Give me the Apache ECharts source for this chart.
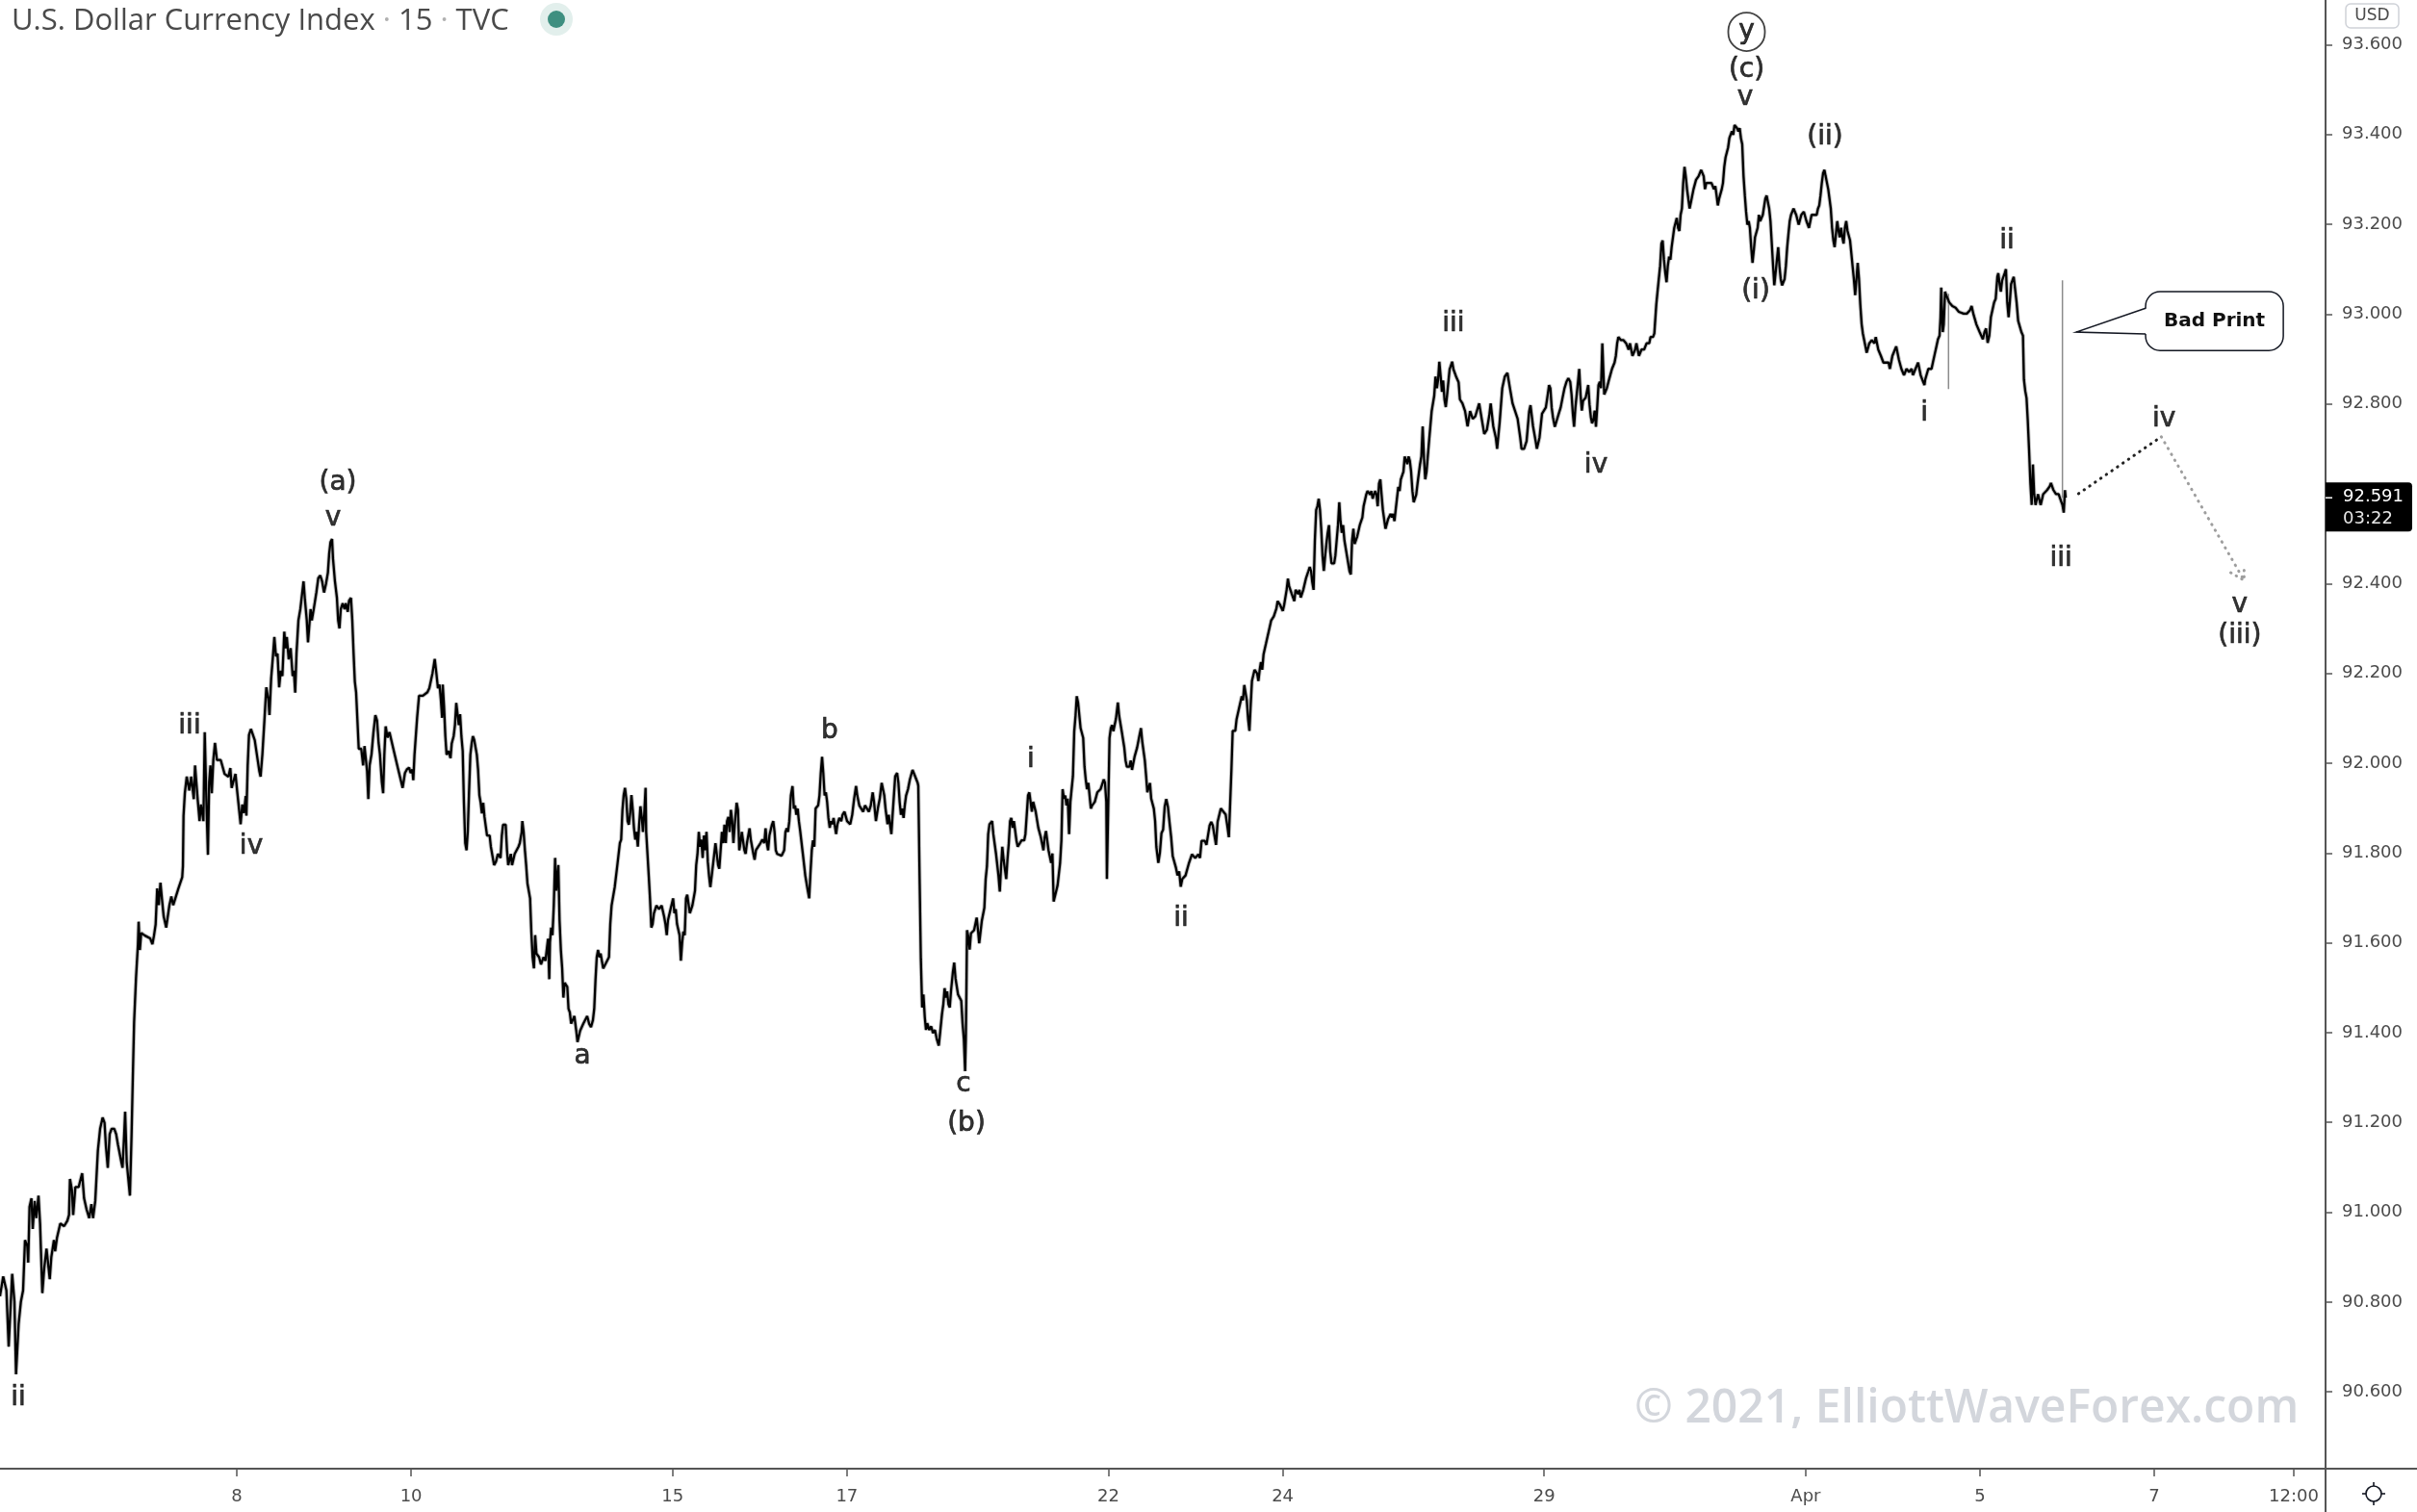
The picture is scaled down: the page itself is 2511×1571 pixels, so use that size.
<!DOCTYPE html>
<html><head><meta charset="utf-8">
<script src="https://cdn.jsdelivr.net/npm/echarts@6/dist/echarts.min.js"></script>
<style>html,body{margin:0;padding:0;background:#fff;overflow:hidden}#c{width:2511px;height:1571px}</style>
</head><body><div id="c"></div>
<script>
// ---- DATA (time in trading-day units: 0 = Mar 8 session, price in index points) ----
const pricePath = [
[-2.717,90.813],[-2.680,90.857],[-2.643,90.826],[-2.617,90.701],[-2.577,90.863],[-2.551,90.801],[-2.533,90.639],[-2.503,90.751],[-2.477,90.801],[-2.452,90.826],[-2.430,90.938],[-2.404,90.925],[-2.393,90.888],[-2.378,91.012],[-2.356,91.031],[-2.341,90.963],[-2.319,91.025],[-2.301,90.987],[-2.275,91.037],[-2.257,90.975],[-2.231,90.820],[-2.209,90.876],[-2.183,90.919],[-2.146,90.851],[-2.128,90.900],[-2.098,90.938],[-2.084,90.913],[-2.062,90.944],[-2.025,90.975],[-1.981,90.969],[-1.944,90.981],[-1.925,90.994],[-1.914,91.074],[-1.892,91.050],[-1.877,90.994],[-1.852,91.056],[-1.815,91.056],[-1.774,91.087],[-1.752,91.031],[-1.723,91.006],[-1.693,90.987],[-1.668,91.018],[-1.649,90.987],[-1.624,91.025],[-1.594,91.137],[-1.568,91.186],[-1.539,91.211],[-1.517,91.199],[-1.502,91.149],[-1.480,91.099],[-1.458,91.174],[-1.436,91.186],[-1.406,91.186],[-1.384,91.174],[-1.362,91.149],[-1.325,91.112],[-1.311,91.099],[-1.292,91.174],[-1.281,91.224],[-1.263,91.112],[-1.226,91.037],[-1.207,91.174],[-1.193,91.298],[-1.178,91.423],[-1.156,91.522],[-1.134,91.597],[-1.126,91.647],[-1.112,91.584],[-1.097,91.622],[-1.053,91.616],[-0.994,91.610],[-0.968,91.597],[-0.950,91.616],[-0.931,91.641],[-0.913,91.721],[-0.895,91.684],[-0.876,91.734],[-0.858,91.697],[-0.839,91.659],[-0.810,91.634],[-0.773,91.684],[-0.751,91.703],[-0.729,91.684],[-0.670,91.721],[-0.626,91.746],[-0.618,91.771],[-0.611,91.883],[-0.596,91.933],[-0.574,91.970],[-0.545,91.939],[-0.523,91.970],[-0.493,91.920],[-0.479,91.995],[-0.449,91.920],[-0.427,91.871],[-0.412,91.908],[-0.383,91.871],[-0.368,92.069],[-0.346,91.896],[-0.331,91.796],[-0.317,91.958],[-0.302,91.995],[-0.287,91.933],[-0.269,92.007],[-0.250,92.045],[-0.228,92.007],[-0.184,92.007],[-0.140,91.976],[-0.096,91.970],[-0.074,91.989],[-0.059,91.945],[-0.015,91.976],[0.007,91.933],[0.044,91.864],[0.063,91.908],[0.081,91.889],[0.103,91.927],[0.110,91.883],[0.125,91.995],[0.140,92.063],[0.162,92.076],[0.206,92.051],[0.258,91.983],[0.273,91.970],[0.294,92.020],[0.317,92.095],[0.339,92.169],[0.361,92.144],[0.375,92.107],[0.394,92.188],[0.412,92.231],[0.431,92.281],[0.449,92.238],[0.467,92.244],[0.486,92.169],[0.504,92.206],[0.523,92.194],[0.545,92.293],[0.560,92.256],[0.574,92.281],[0.596,92.231],[0.618,92.256],[0.641,92.194],[0.655,92.206],[0.670,92.157],[0.685,92.244],[0.707,92.318],[0.729,92.343],[0.766,92.405],[0.780,92.368],[0.803,92.318],[0.817,92.269],[0.847,92.343],[0.861,92.318],[0.883,92.343],[0.913,92.380],[0.935,92.412],[0.957,92.418],[0.979,92.405],[1.001,92.380],[1.023,92.399],[1.045,92.424],[1.060,92.467],[1.075,92.492],[1.093,92.499],[1.104,92.455],[1.126,92.405],[1.149,92.368],[1.163,92.318],[1.178,92.300],[1.193,92.343],[1.215,92.356],[1.237,92.343],[1.251,92.356],[1.274,92.337],[1.288,92.362],[1.310,92.368],[1.325,92.318],[1.340,92.244],[1.354,92.182],[1.369,92.157],[1.384,92.095],[1.399,92.032],[1.428,92.032],[1.450,91.995],[1.465,92.038],[1.495,91.983],[1.509,91.920],[1.524,91.995],[1.546,92.020],[1.568,92.069],[1.590,92.107],[1.609,92.095],[1.627,92.045],[1.642,92.020],[1.664,91.958],[1.679,91.933],[1.693,92.020],[1.708,92.082],[1.730,92.057],[1.752,92.069],[1.796,92.032],[1.848,91.989],[1.903,91.945],
[1.929,91.978],[1.951,91.986],[1.977,91.990],[1.995,91.978],[2.014,91.986],[2.025,91.962],[2.039,92.019],[2.069,92.101],[2.091,92.150],[2.135,92.150],[2.187,92.158],[2.209,92.167],[2.245,92.200],[2.271,92.232],[2.290,92.200],[2.308,92.167],[2.326,92.175],[2.341,92.142],[2.356,92.101],[2.363,92.175],[2.378,92.126],[2.393,92.060],[2.407,92.019],[2.430,92.027],[2.452,92.011],[2.466,92.044],[2.488,92.060],[2.503,92.085],[2.518,92.134],[2.533,92.109],[2.547,92.085],[2.562,92.109],[2.577,92.060],[2.592,92.027],[2.606,91.912],[2.621,91.822],[2.636,91.806],[2.650,91.847],[2.665,91.937],[2.680,92.019],[2.695,92.044],[2.709,92.060],[2.724,92.052],[2.754,92.019],[2.768,91.986],[2.783,91.929],[2.798,91.912],[2.812,91.888],[2.827,91.912],[2.842,91.880],[2.871,91.839],[2.901,91.839],[2.915,91.814],[2.952,91.773],[2.974,91.781],[2.996,91.798],[3.026,91.789],[3.041,91.839],[3.055,91.863],[3.085,91.863],[3.100,91.806],[3.114,91.773],[3.144,91.798],[3.158,91.773],[3.188,91.798],[3.232,91.814],[3.247,91.822],[3.269,91.847],[3.276,91.871],[3.291,91.847],[3.306,91.806],[3.320,91.773],[3.335,91.732],[3.365,91.699],[3.379,91.625],[3.394,91.568],[3.409,91.543],[3.423,91.617],[3.438,91.576],[3.468,91.568],[3.490,91.552],[3.519,91.568],[3.541,91.560],[3.571,91.609],[3.585,91.519],[3.593,91.601],[3.607,91.634],[3.622,91.617],[3.637,91.683],[3.652,91.789],[3.666,91.716],[3.681,91.716],[3.689,91.773],[3.703,91.650],[3.718,91.584],[3.733,91.543],[3.747,91.478],[3.762,91.511],[3.792,91.502],[3.806,91.453],[3.821,91.445],[3.836,91.420],[3.854,91.428],[3.873,91.437],[3.895,91.404],[3.909,91.379],[3.924,91.383],[3.939,91.404],[3.976,91.420],[4.020,91.437],[4.042,91.420],[4.064,91.412],[4.086,91.428],[4.101,91.453],[4.116,91.519],[4.130,91.568],[4.145,91.584],[4.160,91.568],[4.174,91.576],[4.204,91.543],[4.226,91.547],[4.270,91.568],[4.285,91.642],[4.300,91.683],[4.336,91.724],[4.366,91.773],[4.381,91.777],[4.395,91.822],[4.410,91.830],[4.425,91.896],[4.439,91.929],[4.454,91.945],[4.469,91.921],[4.484,91.871],[4.498,91.863],[4.513,91.888],[4.528,91.929],[4.543,91.896],[4.557,91.855],[4.572,91.830],[4.587,91.847],[4.601,91.814],[4.616,91.863],[4.631,91.904],[4.646,91.880],[4.660,91.847],[4.675,91.888],[4.690,91.945],[4.697,91.847],[4.712,91.798],[4.727,91.748],[4.741,91.699],[4.756,91.634],[4.771,91.642],[4.786,91.666],[4.815,91.683],[4.844,91.675],[4.874,91.683],[4.903,91.658],[4.918,91.642],[4.933,91.617],[4.947,91.650],[4.977,91.675],[5.006,91.699],[5.021,91.666],[5.036,91.675],[5.051,91.642],[5.080,91.617],[5.095,91.560],[5.110,91.601],[5.124,91.625],[5.139,91.617],[5.154,91.699],[5.168,91.707],[5.198,91.666],[5.227,91.683],[5.257,91.716],[5.271,91.773],[5.286,91.798],[5.301,91.847],[5.316,91.814],[5.330,91.830],[5.345,91.789],[5.360,91.839],[5.375,91.806],[5.389,91.847],[5.404,91.781],[5.419,91.748],[5.433,91.724],[5.448,91.748],[5.478,91.798],[5.492,91.822],[5.522,91.773],[5.536,91.765],[5.566,91.847],[5.581,91.822],[5.595,91.863],[5.610,91.822],[5.625,91.871],[5.640,91.880],[5.654,91.847],[5.669,91.896],[5.684,91.871],[5.698,91.822],[5.713,91.863],[5.735,91.912],[5.750,91.896],[5.765,91.806],[5.779,91.822],[5.794,91.847],[5.824,91.806],[5.838,91.798],[5.853,91.822],[5.883,91.855],[5.897,91.830],[5.927,91.798],[5.941,91.785],[5.956,91.806],[6.008,91.822],[6.030,91.830],[6.052,91.822],[6.067,91.855],[6.081,91.822],[6.096,91.806],[6.111,91.839],[6.140,91.863],[6.155,91.871],[6.170,91.847],[6.184,91.806],[6.199,91.798],[6.251,91.794],[6.265,91.798],[6.280,91.806],[6.295,91.847],[6.310,91.855],[6.324,91.847],
[6.339,91.871],[6.357,91.928],[6.376,91.949],[6.391,91.899],[6.405,91.906],[6.420,91.885],[6.435,91.899],[6.449,91.871],[6.464,91.849],[6.494,91.799],[6.523,91.749],[6.553,91.714],[6.567,91.699],[6.582,91.756],[6.597,91.806],[6.611,91.828],[6.626,91.814],[6.641,91.899],[6.670,91.906],[6.685,91.928],[6.700,91.978],[6.715,92.014],[6.729,91.978],[6.744,91.928],[6.759,91.935],[6.773,91.914],[6.788,91.878],[6.803,91.856],[6.818,91.871],[6.832,91.864],[6.847,91.878],[6.876,91.842],[6.891,91.864],[6.913,91.878],[6.935,91.871],[6.950,91.885],[6.972,91.892],[7.002,91.871],[7.038,91.864],[7.061,91.885],[7.083,91.921],[7.105,91.949],[7.119,91.928],[7.142,91.906],[7.186,91.892],[7.208,91.906],[7.252,91.892],[7.274,91.906],[7.296,91.935],[7.311,91.914],[7.333,91.871],[7.355,91.899],[7.377,91.921],[7.399,91.956],[7.429,91.928],[7.443,91.899],[7.466,91.864],[7.480,91.885],[7.510,91.842],[7.524,91.885],[7.539,91.928],[7.554,91.971],[7.576,91.978],[7.591,91.956],[7.605,91.914],[7.620,91.885],[7.635,91.899],[7.650,91.878],[7.664,91.906],[7.679,91.928],[7.701,91.942],[7.723,91.964],[7.753,91.985],[7.782,91.971],[7.812,91.956],[7.819,91.949],[7.834,91.742],[7.848,91.564],[7.863,91.456],[7.878,91.485],[7.893,91.435],[7.907,91.406],[7.922,91.421],[7.944,91.406],[7.966,91.414],[7.988,91.399],[8.010,91.406],[8.032,91.385],[8.054,91.371],[8.069,91.399],[8.091,91.442],[8.106,91.463],[8.121,91.499],[8.135,91.478],[8.150,91.492],[8.165,91.463],[8.180,91.456],[8.194,91.492],[8.216,91.535],[8.231,91.556],[8.246,91.521],[8.275,91.485],[8.312,91.471],[8.327,91.421],[8.342,91.385],[8.356,91.314],[8.364,91.385],[8.371,91.492],[8.378,91.628],[8.393,91.614],[8.408,91.585],[8.423,91.621],[8.459,91.628],[8.489,91.656],[8.504,91.628],[8.518,91.599],[8.548,91.649],[8.577,91.678],[8.592,91.742],[8.607,91.771],[8.621,91.842],[8.636,91.864],[8.666,91.871],[8.680,91.842],[8.710,91.799],[8.739,91.749],[8.754,91.714],[8.769,91.771],[8.783,91.814],[8.798,91.785],[8.828,91.742],[8.842,91.785],[8.857,91.821],[8.872,91.871],[8.886,91.878],[8.901,91.856],[8.916,91.871],[8.945,91.828],[8.960,91.814],[9.004,91.828],[9.034,91.828],[9.048,91.842],[9.063,91.885],[9.078,91.928],[9.093,91.935],[9.122,91.892],[9.137,91.914],[9.166,91.892],[9.196,91.856],[9.225,91.835],[9.255,91.806],[9.269,91.835],[9.284,91.849],[9.313,91.806],[9.343,91.778],[9.358,91.799],[9.372,91.692],[9.387,91.692],[9.417,91.728],[9.446,91.778],[9.461,91.828],[9.475,91.942],[9.490,91.921],[9.505,91.928],[9.519,91.906],[9.534,91.921],[9.549,91.842],[9.564,91.914],[9.578,91.942],[9.593,91.971],[9.608,92.071],[9.623,92.106],[9.637,92.149],[9.652,92.135],[9.681,92.078],[9.711,92.056],[9.726,91.992],[9.740,91.964],[9.755,91.942],[9.770,91.956],[9.799,91.899],[9.814,91.906],[9.844,91.914],[9.873,91.935],[9.910,91.942],[9.947,91.964],[9.961,91.956],[9.976,91.914],[9.983,91.742],[10.013,92.056],[10.028,92.078],[10.042,92.085],[10.057,92.071],[10.087,92.099],[10.109,92.135],[10.123,92.106],[10.153,92.071],[10.182,92.035],[10.197,92.006],[10.212,91.992],[10.241,91.992],[10.256,92.006],[10.271,91.985],[10.300,92.014],[10.330,92.035],[10.359,92.064],[10.374,92.078],[10.388,92.049],[10.418,92.006],[10.433,91.971],[10.447,91.935],[10.477,91.956],[10.491,91.921],[10.521,91.899],[10.536,91.871],[10.550,91.814],[10.573,91.778],
[10.591,91.801],[10.609,91.844],[10.628,91.852],[10.646,91.903],[10.664,91.920],[10.683,91.903],[10.701,91.869],[10.720,91.835],[10.738,91.793],[10.756,91.793],[10.775,91.767],[10.793,91.750],[10.812,91.759],[10.830,91.725],[10.848,91.742],[10.885,91.750],[10.922,91.776],[10.959,91.797],[10.996,91.789],[11.032,91.797],[11.051,91.789],[11.069,91.827],[11.106,91.827],[11.125,91.818],[11.161,91.861],[11.180,91.869],[11.198,91.861],[11.235,91.818],[11.253,91.869],[11.290,91.899],[11.309,91.903],[11.345,91.886],[11.364,91.861],[11.382,91.835],[11.397,91.911],[11.412,91.988],[11.426,92.072],[11.456,92.072],[11.471,92.098],[11.500,92.123],[11.530,92.149],[11.544,92.140],[11.559,92.174],[11.588,92.140],[11.603,92.098],[11.618,92.072],[11.633,92.132],[11.647,92.183],[11.677,92.208],[11.706,92.200],[11.721,92.183],[11.736,92.208],[11.750,92.225],[11.765,92.208],[11.780,92.242],[11.809,92.267],[11.839,92.293],[11.868,92.318],[11.898,92.327],[11.927,92.344],[11.942,92.361],[11.971,92.352],[12.001,92.339],[12.016,92.352],[12.030,92.348],[12.045,92.386],[12.060,92.411],[12.074,92.394],[12.104,92.377],[12.133,92.361],[12.148,92.386],[12.177,92.377],[12.192,92.386],[12.207,92.369],[12.236,92.386],[12.266,92.411],[12.295,92.428],[12.310,92.437],[12.325,92.428],[12.339,92.403],[12.354,92.386],[12.369,92.496],[12.384,92.564],[12.398,92.572],[12.413,92.589],[12.428,92.564],[12.442,92.522],[12.457,92.462],[12.472,92.428],[12.487,92.462],[12.501,92.488],[12.516,92.513],[12.531,92.530],[12.545,92.471],[12.560,92.445],[12.590,92.445],[12.604,92.462],[12.619,92.496],[12.634,92.530],[12.649,92.581],[12.663,92.539],[12.678,92.513],[12.693,92.530],[12.708,92.496],[12.737,92.462],[12.766,92.428],[12.781,92.420],[12.796,92.496],[12.811,92.522],[12.825,92.488],[12.855,92.505],[12.884,92.530],[12.914,92.547],[12.928,92.572],[12.958,92.598],[12.973,92.606],[13.002,92.598],[13.017,92.606],[13.032,92.589],[13.061,92.606],[13.076,92.598],[13.090,92.572],[13.105,92.623],[13.120,92.632],[13.134,92.598],[13.149,92.564],[13.179,92.522],[13.208,92.543],[13.238,92.555],[13.252,92.547],[13.267,92.555],[13.282,92.539],[13.296,92.564],[13.326,92.615],[13.341,92.606],[13.355,92.632],[13.385,92.649],[13.400,92.683],[13.429,92.666],[13.444,92.683],[13.458,92.674],[13.473,92.649],[13.488,92.606],[13.503,92.581],[13.532,92.598],[13.547,92.623],[13.576,92.666],[13.591,92.683],[13.606,92.750],[13.620,92.683],[13.635,92.632],[13.650,92.649],[13.679,92.717],[13.709,92.784],[13.738,92.818],[13.753,92.861],[13.768,92.835],[13.782,92.852],[13.797,92.894],[13.812,92.861],[13.827,92.827],[13.841,92.852],[13.856,92.810],[13.871,92.793],[13.885,92.818],[13.915,92.877],[13.944,92.894],[13.959,92.877],[13.989,92.861],[14.018,92.848],[14.033,92.810],[14.062,92.801],[14.092,92.784],[14.121,92.750],[14.150,92.784],[14.180,92.767],[14.209,92.772],[14.254,92.801],[14.283,92.767],[14.312,92.733],[14.342,92.742],[14.371,92.776],[14.386,92.801],[14.416,92.750],[14.445,92.725],[14.460,92.700],[14.489,92.759],[14.519,92.835],[14.548,92.861],[14.578,92.869],[14.607,92.835],[14.637,92.801],[14.666,92.784],[14.695,92.767],[14.725,92.725],[14.740,92.700],[14.769,92.700],[14.798,92.717],[14.828,92.784],[14.843,92.797],[14.872,92.750],[14.902,92.717],[14.916,92.700],[14.946,92.725],
[14.975,92.778],[14.997,92.785],[15.019,92.792],[15.041,92.821],[15.056,92.842],[15.071,92.835],[15.086,92.792],[15.100,92.771],[15.122,92.749],[15.145,92.764],[15.167,92.778],[15.189,92.792],[15.211,92.814],[15.233,92.835],[15.255,92.849],[15.277,92.857],[15.299,92.849],[15.314,92.821],[15.329,92.778],[15.343,92.749],[15.358,92.792],[15.388,92.849],[15.402,92.878],[15.417,92.821],[15.432,92.785],[15.446,92.807],[15.476,92.814],[15.505,92.842],[15.520,92.799],[15.535,92.771],[15.549,92.757],[15.564,92.764],[15.579,92.785],[15.594,92.749],[15.608,92.792],[15.623,92.842],[15.638,92.849],[15.652,92.835],[15.667,92.935],[15.689,92.821],[15.719,92.835],[15.748,92.857],[15.778,92.878],[15.807,92.892],[15.822,92.907],[15.837,92.935],[15.851,92.949],[15.881,92.942],[15.910,92.942],[15.940,92.935],[15.969,92.921],[15.984,92.935],[16.013,92.907],[16.043,92.921],[16.058,92.935],[16.087,92.907],[16.116,92.921],[16.146,92.921],[16.175,92.935],[16.205,92.935],[16.220,92.949],[16.249,92.949],[16.264,92.957],[16.271,92.978],[16.286,93.021],[16.300,93.049],[16.315,93.078],[16.330,93.107],[16.345,93.157],[16.359,93.164],[16.374,93.121],[16.389,93.092],[16.404,93.071],[16.418,93.107],[16.433,93.128],[16.448,93.121],[16.462,93.149],[16.492,93.192],[16.521,93.214],[16.536,93.192],[16.551,93.185],[16.565,93.221],[16.580,93.235],[16.595,93.292],[16.610,93.328],[16.624,93.307],[16.639,93.278],[16.668,93.235],[16.683,93.249],[16.713,93.278],[16.742,93.299],[16.771,93.307],[16.801,93.321],[16.830,93.307],[16.845,93.278],[16.860,93.292],[16.889,93.292],[16.919,93.292],[16.948,93.278],[16.963,93.285],[16.978,93.264],[16.992,93.242],[17.007,93.257],[17.037,93.278],[17.051,93.292],[17.066,93.328],[17.081,93.349],[17.110,93.371],[17.125,93.392],[17.154,93.407],[17.169,93.399],[17.184,93.421],[17.199,93.424],[17.213,93.414],[17.228,93.407],[17.243,93.414],[17.257,93.392],[17.272,93.378],[17.287,93.307],[17.302,93.264],[17.316,93.228],[17.331,93.199],[17.346,93.207],[17.360,93.192],[17.375,93.149],[17.390,93.114],[17.405,93.142],[17.419,93.171],[17.449,93.192],[17.464,93.221],[17.478,93.207],[17.508,93.221],[17.537,93.257],[17.552,93.264],[17.567,93.249],[17.581,93.235],[17.596,93.207],[17.611,93.157],[17.626,93.107],[17.640,93.064],[17.655,93.092],[17.670,93.121],[17.685,93.149],[17.699,93.107],[17.714,93.078],[17.729,93.064],[17.758,93.078],[17.773,93.107],[17.788,93.149],[17.802,93.178],[17.817,93.207],[17.832,93.221],[17.861,93.235],[17.891,93.221],[17.920,93.199],[17.950,93.221],[17.979,93.228],[18.009,93.207],[18.038,93.192],[18.068,93.221],[18.097,93.221],[18.126,93.221],[18.141,93.235],[18.156,93.242],[18.170,93.264],[18.185,93.292],[18.200,93.314],[18.215,93.321],[18.229,93.307],[18.259,93.278],[18.288,93.235],[18.303,93.192],[18.318,93.164],[18.332,93.149],[18.347,93.178],[18.362,93.207],[18.377,93.185],[18.391,93.171],[18.406,93.192],[18.421,93.171],[18.435,93.157],[18.450,93.192],[18.465,93.207],[18.480,93.185],[18.509,93.164],[18.524,93.135],[18.538,93.107],[18.553,93.078],[18.568,93.042],[18.583,93.078],[18.597,93.114],[18.612,93.078],[18.627,93.021],[18.642,92.978],[18.656,92.957],[18.686,92.928],[18.700,92.914],[18.730,92.935],[18.759,92.942],[18.789,92.935],[18.804,92.949],[18.833,92.921],[18.863,92.907],[18.892,92.892],[18.922,92.892],[18.951,92.892],[18.966,92.878],[18.995,92.907],[19.024,92.921],[19.039,92.928],[19.069,92.899],[19.098,92.878],[19.128,92.864],[19.157,92.878],[19.186,92.871],[19.216,92.878],[19.231,92.864],[19.260,92.878],[19.290,92.892],[19.319,92.864],[19.348,92.849],[19.363,92.842],
[19.371,92.854],[19.407,92.878],[19.444,92.878],[19.463,92.895],[19.481,92.911],[19.499,92.927],[19.518,92.944],[19.536,92.952],[19.547,92.993],[19.555,93.059],[19.573,92.960],[19.584,92.977],[19.599,93.050],[19.613,93.042],[19.647,93.026],[19.683,93.018],[19.720,93.014],[19.757,93.005],[19.775,93.001],[19.812,93.001],[19.849,93.001],[19.886,93.009],[19.904,93.018],[19.923,93.001],[19.959,92.977],[19.996,92.960],[20.033,92.944],[20.052,92.960],[20.070,92.968],[20.088,92.936],[20.107,92.952],[20.125,92.993],[20.162,93.026],[20.180,93.034],[20.199,93.083],[20.210,93.091],[20.225,93.067],[20.239,93.050],[20.254,93.075],[20.283,93.091],[20.298,93.100],[20.313,93.026],[20.328,92.993],[20.342,93.026],[20.357,93.067],[20.387,93.083],[20.401,93.059],[20.420,93.026],[20.438,92.985],[20.475,92.960],[20.493,92.952],[20.504,92.854],[20.519,92.829],[20.534,92.813],[20.548,92.763],[20.563,92.698],[20.578,92.624],[20.593,92.575],[20.607,92.665],[20.622,92.599],[20.637,92.575],[20.666,92.599],[20.696,92.575],[20.725,92.599],[20.769,92.608],[20.799,92.616],[20.814,92.624],[20.843,92.608],[20.872,92.599],[20.902,92.599],[20.931,92.583],[20.946,92.575],[20.961,92.558],[20.975,92.608],[20.983,92.591]
];
// isolated bad-print bars: [time, low, high]
const badPrints = [[19.639, 92.833, 93.045], [20.946, 92.591, 93.075]];
// projected path: last price -> iv -> v
const projection = [[21.13, 92.600], [22.08, 92.727], [23.03, 92.407]];
// wave labels: [time, price, text]
const waveLabels = [
[-2.507,90.594,'ii'],[-0.541,92.090,'iii'],[0.166,91.822,'iv'],[1.160,92.632,'(a)'],[1.104,92.553,'v'],
[3.965,91.355,'a'],[6.803,92.079,'b'],[8.338,91.293,'c'],[8.371,91.205,'(b)'],
[9.111,92.015,'i'],[10.834,91.661,'ii'],[13.959,92.986,'iii'],[15.594,92.671,'iv'],
[17.305,93.489,'v'],[17.322,93.552,'(c)'],[17.427,93.059,'(i)'],[18.222,93.402,'(ii)'],
[19.360,92.786,'i'],[20.310,93.170,'ii'],[20.930,92.464,'iii'],[22.110,92.774,'iv'],
[22.980,92.360,'v'],[22.980,92.291,'(iii)']
];
const circledLabel = [17.322, 93.635, 'y'];
const callout = {text: 'Bad Print', tip: [21.104, 92.960], box: [21.90, 93.050, 23.48, 92.919], baseTop: 93.013, baseBottom: 92.956};
const priceTicks = [90.6,90.8,91.0,91.2,91.4,91.6,91.8,92.0,92.2,92.4,92.6,92.8,93.0,93.2,93.4,93.6];
const dateTicks = [[0,'8'],[2,'10'],[5,'15'],[7,'17'],[10,'22'],[12,'24'],[15,'29'],[18,'Apr'],[20,'5'],[22,'7'],[23.6,'12:00']];
const lastPrice = 92.591, countdown = '03:22';
const titleParts = ['U.S. Dollar Currency Index', '15', 'TVC'];
const watermark = '\u00A9 2021, ElliottWaveForex.com';

// ---- CHART ----
const X_MIN = -2.7167, X_MAX = 23.9647, Y_MIN = 90.429, Y_MAX = 93.6994;
const FONT = 'DejaVu Sans';
const chart = echarts.init(document.getElementById('c'), null, {renderer: 'canvas'});
const fmtDate = v => { const f = dateTicks.find(d => Math.abs(d[0] - v) < 1e-6); return f ? f[1] : ''; };
const dotStyle = (c) => ({color: c, width: 3, type: [0.5, 6.5], cap: 'round'});
const labelStyle = {fontSize: 28, color: '#000', fontFamily: FONT, textBorderColor: '#000', textBorderWidth: 0.7, offset: [0, 4]};

chart.setOption({
  animation: false,
  backgroundColor: '#ffffff',
  grid: {left: 0, right: 95, top: 0, bottom: 45, containLabel: false},
  xAxis: {
    type: 'value', min: X_MIN, max: X_MAX,
    axisLine: {show: false, onZero: false}, splitLine: {show: false},
    axisTick: {show: true, customValues: dateTicks.map(d => d[0]), length: 8, lineStyle: {color: '#555', width: 1.5}},
    axisLabel: {customValues: dateTicks.map(d => d[0]), formatter: fmtDate, color: '#4c4c4c', fontSize: 18, fontFamily: FONT, margin: 20}
  },
  yAxis: {
    type: 'value', position: 'right', min: Y_MIN, max: Y_MAX, scale: true,
    axisLine: {show: false, onZero: false}, splitLine: {show: false},
    axisTick: {show: true, customValues: priceTicks, length: 7, lineStyle: {color: '#555', width: 1.5}},
    axisLabel: {customValues: priceTicks, formatter: v => v.toFixed(3), color: '#4c4c4c', fontSize: 18, fontFamily: FONT, margin: 17}
  },
  series: [
    {type: 'line', data: pricePath, symbol: 'none', lineStyle: {color: '#8a8a8a', width: 4.2, opacity: 0.55}, z: 4, silent: true},
    {type: 'line', data: pricePath, symbol: 'none', lineStyle: {color: '#000', width: 2.3}, z: 5, silent: true},
    ...badPrints.map(b => ({type: 'line', data: [[b[0], b[1]], [b[0], b[2]]], symbol: 'none', lineStyle: {color: '#8c8c8c', width: 1.5}, z: 4, silent: true})),
    {type: 'line', data: projection.slice(0, 2), symbol: 'none', lineStyle: dotStyle('#222'), z: 6, silent: true},
    {type: 'line', data: projection.slice(1), symbol: 'none', lineStyle: dotStyle('#9e9e9e'), z: 6, silent: true},
    {type: 'scatter', data: waveLabels, symbolSize: 1, itemStyle: {color: 'rgba(0,0,0,0)'}, z: 10, silent: true,
     label: Object.assign({show: true, position: 'inside', formatter: p => p.data[2]}, labelStyle)},
    {type: 'scatter', data: [circledLabel], symbolSize: 1, itemStyle: {color: 'rgba(0,0,0,0)'}, z: 10, silent: true,
     label: Object.assign({show: true, position: 'inside', formatter: p => p.data[2],
       width: 38, height: 36, lineHeight: 32, align: 'center', borderColor: '#111', borderWidth: 1.8, borderRadius: 20, padding: [0, 0, 4, 0]}, labelStyle, {offset: [0, 3]})}
  ]
});

// ---- Annotations anchored to data ----
const px = (t, p) => chart.convertToPixel({gridIndex: 0}, [t, p]);
const tip = px(callout.tip[0], callout.tip[1]);
const b0 = px(callout.box[0], callout.box[1]);
const b1 = px(callout.box[2], callout.box[3]);
const bt = px(callout.box[0], callout.baseTop);
const bb = px(callout.box[0], callout.baseBottom);
const pA = px(projection[1][0], projection[1][1]);
const pB = px(projection[2][0], projection[2][1]);
const ang = Math.atan2(pB[1] - pA[1], pB[0] - pA[0]);
const ah = 16, aw = Math.PI / 6;
const arrowL = [pB[0] - ah * Math.cos(ang - aw), pB[1] - ah * Math.sin(ang - aw)];
const arrowR = [pB[0] - ah * Math.cos(ang + aw), pB[1] - ah * Math.sin(ang + aw)];
const yLast = px(0, lastPrice)[1];
const AX_X = 2416, AX_Y = 1526;

const gfx = [
  // axis frame lines
  {type: 'line', shape: {x1: 0, y1: AX_Y, x2: 2511, y2: AX_Y}, style: {stroke: '#555', lineWidth: 2}, z: 20},
  {type: 'line', shape: {x1: AX_X, y1: 0, x2: AX_X, y2: 1571}, style: {stroke: '#555', lineWidth: 2}, z: 20},
  // title
  {type: 'text', left: 12, top: 7, z: 30, style: {
    text: '{a|' + titleParts[0] + '}{d| · }{a|' + titleParts[1] + '}{d| · }{a|' + titleParts[2] + '}',
    rich: {a: {fontSize: 31, fontFamily: 'Open Sans', fill: '#4a4a4a'}, d: {fontSize: 31, fontFamily: 'Open Sans', fill: '#b0b0b0'}}}},
  {type: 'circle', shape: {cx: 578, cy: 20, r: 17}, style: {fill: '#e2efec'}, z: 30},
  {type: 'circle', shape: {cx: 578, cy: 20, r: 9}, style: {fill: '#3e8f80'}, z: 31},
  // USD box
  {type: 'rect', shape: {x: 2437, y: 4, width: 55, height: 25, r: 5}, style: {fill: '#fff', stroke: '#cfd2d8', lineWidth: 1.5}, z: 30},
  {type: 'text', x: 2464.5, y: 16.5, z: 31, style: {text: 'USD', fontSize: 17, fontFamily: FONT, fill: '#4a4a4a', align: 'center', verticalAlign: 'middle'}},
  // last price label
  {type: 'rect', shape: {x: AX_X, y: yLast - 16, width: 90, height: 51, r: [0, 4, 4, 0]}, style: {fill: '#000'}, z: 30},
  {type: 'line', shape: {x1: AX_X, y1: yLast, x2: AX_X + 7, y2: yLast}, style: {stroke: '#fff', lineWidth: 1.5}, z: 31},
  {type: 'text', x: 2434, y: yLast - 1, z: 31, style: {text: lastPrice.toFixed(3), fontSize: 18, fontFamily: FONT, fill: '#fff', verticalAlign: 'middle'}},
  {type: 'text', x: 2434, y: yLast + 22, z: 31, style: {text: countdown, fontSize: 18, fontFamily: FONT, fill: '#e6e6e6', verticalAlign: 'middle'}},
  // gear icon
  {type: 'circle', shape: {cx: 2466, cy: 1552, r: 8}, style: {fill: 'none', stroke: '#131722', lineWidth: 1.6}, z: 30},
  ...[0, 1, 2, 3].map(i => {
    const a = i * Math.PI / 2;
    return {type: 'line', shape: {x1: 2466 + 8 * Math.cos(a), y1: 1552 + 8 * Math.sin(a), x2: 2466 + 12 * Math.cos(a), y2: 1552 + 12 * Math.sin(a)}, style: {stroke: '#131722', lineWidth: 1.6}, z: 30};
  }),
  // watermark
  {type: 'text', x: 1698, y: 1464, z: 1, style: {text: watermark, fontSize: 48, fontWeight: 600, fontFamily: 'Open Sans', fill: '#d3d6dc', verticalAlign: 'middle'}},
  // callout
  {type: 'rect', shape: {x: b0[0], y: b0[1], width: b1[0] - b0[0], height: b1[1] - b0[1], r: 15}, style: {fill: '#fff', stroke: '#131722', lineWidth: 1.5}, z: 25},
  {type: 'polygon', shape: {points: [[bt[0] + 2, bt[1]], tip, [bb[0] + 2, bb[1]]]}, style: {fill: '#fff'}, z: 26},
  {type: 'polyline', shape: {points: [[bt[0], bt[1]], tip, [bb[0], bb[1]]]}, style: {stroke: '#131722', lineWidth: 1.5, fill: null}, z: 27},
  {type: 'text', x: (b0[0] + b1[0]) / 2, y: (b0[1] + b1[1]) / 2, z: 28, style: {text: callout.text, fontSize: 20, fontWeight: 'bold', fontFamily: FONT, fill: '#111', align: 'center', verticalAlign: 'middle'}},
  // projection arrowhead
  {type: 'polyline', shape: {points: [arrowL, pB, arrowR]}, style: {stroke: '#9e9e9e', lineWidth: 3, lineDash: [0.5, 6], lineCap: 'round', fill: null}, z: 27}
];
chart.setOption({graphic: gfx});
</script>
</body></html>
